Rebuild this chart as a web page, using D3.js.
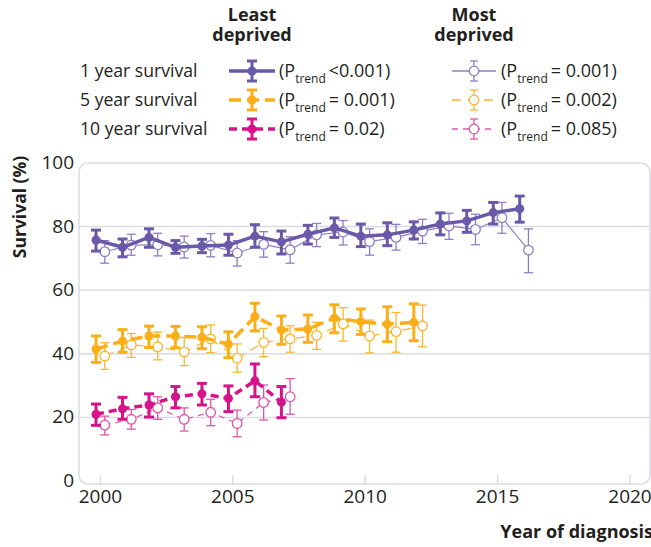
<!DOCTYPE html>
<html><head><meta charset="utf-8">
<script src="https://cdn.jsdelivr.net/npm/d3@7"></script>
<style>
html,body{margin:0;padding:0;background:#fff;}
svg{display:block;font-family:"Open Sans","Noto Sans",sans-serif;}
</style></head>
<body>
<svg id="c" width="651" height="547"></svg>
<script>
// ---- data ----
const years1 = [2000,2001,2002,2003,2004,2005,2006,2007,2008,2009,2010,2011,2012,2013,2014,2015,2016];
const least1 = [75.8,73.5,76.6,73.5,73.9,74.2,77.0,75.2,77.6,79.6,77.0,77.4,78.9,80.8,81.8,84.4,85.6];
const least1Lo = [72.3,70.5,73.5,71.6,71.8,71.0,73.5,71.4,74.5,76.6,73.7,74.0,76.1,77.4,78.2,80.8,81.4];
const least1Hi = [78.9,76.1,79.3,75.6,76.0,77.6,80.6,78.6,80.4,82.7,80.8,81.2,81.5,84.3,85.1,87.6,89.6];
const most1 = [72.1,74.2,74.3,73.6,74.1,71.7,74.4,72.7,77.4,78.3,75.3,76.6,78.6,80.2,79.1,82.8,72.6];
const most1Lo = [68.5,71.0,70.8,70.1,70.5,67.6,70.4,68.5,73.7,74.2,71.0,72.6,74.7,76.0,74.3,77.9,65.5];
const most1Hi = [75.6,77.6,77.9,77.0,77.8,75.6,78.4,76.8,81.0,81.9,79.3,80.7,82.3,84.2,83.9,87.6,79.3];

const years5 = [2000,2001,2002,2003,2004,2005,2006,2007,2008,2009,2010,2011,2012];
const least5 = [41.5,44.0,45.6,45.6,45.2,43.0,51.7,47.5,47.8,51.2,50.1,49.3,49.9];
const least5Lo = [37.3,40.5,42.0,41.9,41.6,38.8,47.2,43.0,43.6,46.6,46.1,43.8,44.1];
const least5Hi = [45.6,47.6,48.7,48.6,48.5,46.9,55.9,51.9,52.2,55.4,54.1,54.8,55.7];
const most5 = [39.3,42.8,42.2,40.6,44.7,38.6,43.6,44.7,45.8,49.4,45.6,47.0,48.8];
const most5Lo = [35.1,38.9,38.1,36.3,40.4,34.2,39.1,40.5,41.4,44.0,40.3,40.5,42.2];
const most5Hi = [43.5,46.4,46.8,45.2,49.1,43.1,48.0,48.8,49.9,54.5,50.6,53.0,55.3];

const years10 = [2000,2001,2002,2003,2004,2005,2006,2007];
const least10 = [21.0,22.7,23.9,26.5,27.4,26.0,31.5,24.8];
const least10Lo = [17.5,19.4,20.1,23.0,23.9,21.8,26.5,19.9];
const least10Hi = [24.2,26.3,27.4,29.7,30.7,29.9,36.8,29.7];
const most10 = [17.6,19.4,23.0,19.4,21.6,18.1,24.7,26.5];
const most10Lo = [14.5,16.3,19.4,15.7,17.4,13.9,19.2,21.0];
const most10Hi = [20.4,22.5,26.5,23.0,25.7,22.3,30.2,32.2];

const rowLabels = ["1 year survival","5 year survival","10 year survival"];
const leastP = ["<0.001","= 0.001","= 0.02"];
const mostP = ["= 0.001","= 0.002","= 0.085"];
const xTicks = [2000,2005,2010,2015,2020];
const yTicks = [0,20,40,60,80,100];

// ---- styles ----
const cPurple = "#6a58a8", cPurpleL = "#8e7fc4";
const cOrange = "#fbae17", cOrangeL = "#fcb52e";
const cMag = "#d5138a", cMagL = "#e055a8";
const txt = "#231f20";

const svg = d3.select("#c");
const x = d3.scaleLinear().domain([2000,2020]).range([100.4,630]);
const y = d3.scaleLinear().domain([0,100]).range([481,163]);
const frameL = 79, frameR = 650, frameT = 163, frameB = 484;

// gridlines
svg.append("g").selectAll("line").data([20,40,60,80]).join("line")
  .attr("x1",frameL).attr("x2",frameR).attr("y1",d=>y(d)).attr("y2",d=>y(d))
  .attr("stroke","#d9dce4").attr("stroke-width",1.5);
// frame
svg.append("rect").attr("x",frameL).attr("y",frameT).attr("width",frameR-frameL).attr("height",frameB-frameT)
  .attr("rx",9).attr("fill","none").attr("stroke","#d9dce4").attr("stroke-width",1.5);
// x ticks
svg.append("g").selectAll("line").data(xTicks).join("line")
  .attr("x1",d=>x(d)).attr("x2",d=>x(d)).attr("y1",frameB).attr("y2",frameB-9)
  .attr("stroke","#d9dce4").attr("stroke-width",1.5);
svg.append("g").selectAll("text").data(xTicks).join("text")
  .attr("x",d=>x(d)).attr("y",503).attr("text-anchor","middle")
  .attr("font-size",19).attr("fill",txt).text(d=>d);
svg.append("g").selectAll("text").data(yTicks).join("text")
  .attr("x",74).attr("y",d=>y(d)+6).attr("text-anchor","end")
  .attr("font-size",19).attr("fill",txt).text(d=>d);
svg.append("text").attr("transform","translate(26,207) rotate(-90)").attr("text-anchor","middle")
  .attr("font-size",17.5).attr("font-weight","bold").attr("fill",txt).text("Survival (%)");
svg.append("text").attr("x",653).attr("y",538).attr("text-anchor","end")
  .attr("font-size",18).attr("font-weight","bold").attr("fill",txt).text("Year of diagnosis");

const off = 0.165;
function series(years, v, lo, hi, opt){
  const g = svg.append("g");
  const data = years.map((yr,i)=>({yr, v:v[i], lo:lo[i], hi:hi[i]}));
  const px = d => x(d.yr + opt.dx);
  g.append("path").datum(data)
    .attr("d", d3.line().x(px).y(d=>y(d.v)))
    .attr("fill","none").attr("stroke",opt.color).attr("stroke-width",opt.lw)
    .attr("stroke-dasharray",opt.dash||null).attr("stroke-linejoin","round");
  const eb = g.append("g").attr("stroke",opt.color).attr("stroke-width",opt.ew);
  eb.selectAll(".v").data(data).join("line").attr("x1",px).attr("x2",px)
    .attr("y1",d=>y(d.lo)).attr("y2",d=>y(d.hi));
  eb.selectAll(".t").data(data).join("line").attr("x1",d=>px(d)-opt.cap).attr("x2",d=>px(d)+opt.cap)
    .attr("y1",d=>y(d.hi)).attr("y2",d=>y(d.hi));
  eb.selectAll(".b").data(data).join("line").attr("x1",d=>px(d)-opt.cap).attr("x2",d=>px(d)+opt.cap)
    .attr("y1",d=>y(d.lo)).attr("y2",d=>y(d.lo));
  g.selectAll("circle").data(data).join("circle").attr("cx",px).attr("cy",d=>y(d.v))
    .attr("r",opt.r).attr("fill",opt.open?"#fff":opt.color)
    .attr("stroke",opt.color).attr("stroke-width",opt.open?1.3:0);
}
// most deprived (thin, open)
series(years1, most1, most1Lo, most1Hi, {dx:off, color:cPurpleL, lw:1.2, ew:1.3, cap:4.5, r:4.8, open:true});
series(years5, most5, most5Lo, most5Hi, {dx:off, color:cOrangeL, lw:1.2, ew:1.3, cap:4.5, r:4.8, open:true, dash:"9,7"});
series(years10, most10, most10Lo, most10Hi, {dx:off, color:cMagL, lw:1.2, ew:1.3, cap:4.5, r:4.8, open:true, dash:"6,5"});
// least deprived (thick, filled)
series(years1, least1, least1Lo, least1Hi, {dx:-off, color:cPurple, lw:3.5, ew:3, cap:5, r:4.5});
series(years5, least5, least5Lo, least5Hi, {dx:-off, color:cOrange, lw:3.5, ew:3, cap:5, r:4.5, dash:"12,6"});
series(years10, least10, least10Lo, least10Hi, {dx:-off, color:cMag, lw:3.5, ew:3, cap:5, r:4.5, dash:"8,5"});

// ---- legend ----
const lg = svg.append("g").attr("fill",txt);
[["Least",252],["Most",474]].forEach(([w,cx])=>{
  lg.append("text").attr("x",cx).attr("y",21).attr("text-anchor","middle").attr("font-size",18).attr("font-weight","bold").text(w);
  lg.append("text").attr("x",cx).attr("y",41).attr("text-anchor","middle").attr("font-size",18).attr("font-weight","bold").text("deprived");
});
const rowY = [71,100,129];
const lColors = [cPurple,cOrange,cMag], mColors=[cPurpleL,cOrangeL,cMagL];
const lDash = [null,"12,6","8,5"], mDash=[null,"9,7","6,5"];
rowLabels.forEach((lab,i)=>{
  const cy = rowY[i];
  lg.append("text").attr("x",80).attr("y",cy+6).attr("font-size",17.6).text(lab);
  // least symbol
  const ls = lg.append("g").attr("stroke",lColors[i]);
  ls.append("line").attr("x1",229).attr("x2",275).attr("y1",cy).attr("y2",cy).attr("stroke-width",3.5).attr("stroke-dasharray",lDash[i]);
  ls.append("line").attr("x1",252).attr("x2",252).attr("y1",cy-10).attr("y2",cy+10).attr("stroke-width",3);
  ls.append("line").attr("x1",247).attr("x2",257).attr("y1",cy-10).attr("y2",cy-10).attr("stroke-width",3);
  ls.append("line").attr("x1",247).attr("x2",257).attr("y1",cy+10).attr("y2",cy+10).attr("stroke-width",3);
  ls.append("circle").attr("cx",252).attr("cy",cy).attr("r",4.5).attr("fill",lColors[i]).attr("stroke","none");
  // most symbol
  const ms = lg.append("g").attr("stroke",mColors[i]);
  ms.append("line").attr("x1",452).attr("x2",496).attr("y1",cy).attr("y2",cy).attr("stroke-width",1.3).attr("stroke-dasharray",mDash[i]);
  ms.append("line").attr("x1",474).attr("x2",474).attr("y1",cy-10).attr("y2",cy+10).attr("stroke-width",1.3);
  ms.append("line").attr("x1",470).attr("x2",478).attr("y1",cy-10).attr("y2",cy-10).attr("stroke-width",1.3);
  ms.append("line").attr("x1",470).attr("x2",478).attr("y1",cy+10).attr("y2",cy+10).attr("stroke-width",1.3);
  ms.append("circle").attr("cx",474).attr("cy",cy).attr("r",4.8).attr("fill","#fff").attr("stroke-width",1.3);
  // p texts
  [[279,leastP[i]],[501,mostP[i]]].forEach(([tx,p])=>{
    const t = lg.append("text").attr("x",tx).attr("y",cy+6).attr("font-size",18);
    t.append("tspan").text("(P");
    t.append("tspan").attr("font-size",12).attr("dy",6).text("trend");
    t.append("tspan").attr("dy",-6).text("\u2009" + p + ")");
  });
});
</script>
</body></html>
